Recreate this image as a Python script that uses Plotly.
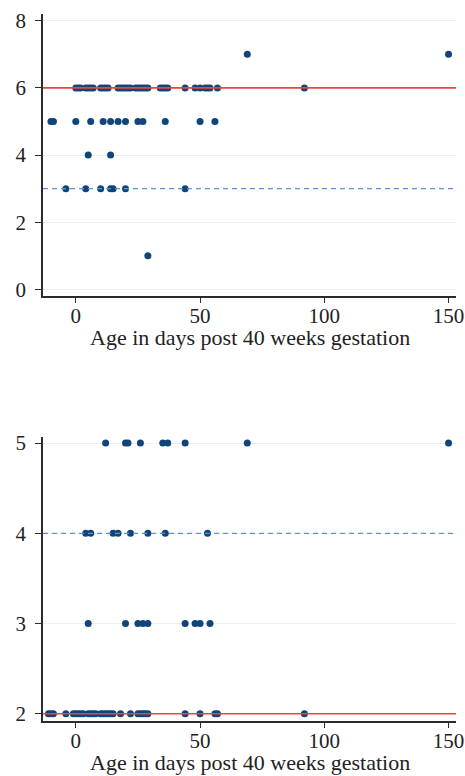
import plotly.graph_objects as go
from plotly.subplots import make_subplots

# ---- Top panel data (x = age in days, y = score) ----
top_x_y6 = [0, 1, 2, 4, 5, 6, 7, 10, 11, 12, 13, 17, 18, 19, 20, 21, 22, 24, 25, 26, 27, 28, 29,
            34, 35, 36, 37, 44, 48, 50, 52, 53, 54, 57, 92]
top_x_y5 = [-10, -9, 0, 6, 11, 14, 17, 20, 25, 27, 36, 50, 56]
top_x_y4 = [5, 14]
top_x_y3 = [-4, 4, 10, 14, 15, 20, 44]
top_x_y1 = [29]
top_x_y7 = [69, 150]
top_solid_ref = 6
top_dashed_ref = 3
top_yticks = [0, 2, 4, 6, 8]

# ---- Bottom panel data ----
bot_x_y5 = [12, 20, 21, 26, 35, 37, 44, 69, 150]
bot_x_y4 = [4, 6, 15, 17, 22, 29, 36, 53]
bot_x_y3 = [5, 20, 25, 27, 29, 44, 48, 50, 54]
bot_x_y2 = [-11, -10, -9, -4, -1, 0, 1, 2, 3, 5, 6, 7, 8, 10, 11, 12, 13, 14, 15, 18, 22,
            25, 26, 27, 28, 29, 44, 50, 56, 57, 92]
bot_solid_ref = 2
bot_dashed_ref = 4
bot_yticks = [2, 3, 4, 5]

xticks = [0, 50, 100, 150]
x_title = "Age in days post 40 weeks gestation"

MARK = "#10457a"
RED = "#e8463c"
BLUE = "#5b93d6"
AX = "#2b2b2b"
FONT = "Liberation Serif"

fig = make_subplots(rows=2, cols=1, vertical_spacing=0.2)

def add_points(xs_by_y, row):
    xs, ys = [], []
    for yv, xs_list in xs_by_y:
        xs += xs_list
        ys += [yv] * len(xs_list)
    fig.add_trace(go.Scatter(x=xs, y=ys, mode="markers",
                             marker=dict(color=MARK, size=7),
                             showlegend=False, hoverinfo="x+y"), row=row, col=1)

add_points([(7, top_x_y7), (6, top_x_y6), (5, top_x_y5), (4, top_x_y4),
            (3, top_x_y3), (1, top_x_y1)], 1)
add_points([(5, bot_x_y5), (4, bot_x_y4), (3, bot_x_y3), (2, bot_x_y2)], 2)

# reference lines
for (yref, yv, col, dash, w) in [("y", top_solid_ref, RED, "solid", 1.6),
                                  ("y", top_dashed_ref, BLUE, "5px,4px", 1.4),
                                  ("y2", bot_solid_ref, RED, "solid", 1.6),
                                  ("y2", bot_dashed_ref, BLUE, "5px,4px", 1.4)]:
    xr = "x domain" if yref == "y" else "x2 domain"
    fig.add_shape(type="line", xref=xr, yref=yref, x0=0, x1=1, y0=yv, y1=yv,
                  line=dict(color=col, width=w, dash=dash), layer="above")

# x-axis titles as annotations placed below each panel
for xr, yr in [("x domain", "y domain"), ("x2 domain", "y2 domain")]:
    fig.add_annotation(text=x_title, xref=xr, yref=yr, x=0.5, y=0, xanchor="center",
                       yanchor="middle", yshift=-41, showarrow=False, borderpad=0,
                       font=dict(family=FONT, size=22, color="#222"))

xaxis_common = dict(range=[-13.2, 153], tickvals=xticks, showgrid=False, zeroline=False,
                    showline=True, linecolor=AX, linewidth=1.6, ticks="outside",
                    ticklen=5, tickcolor=AX, tickwidth=1.3, automargin=False,
                    ticklabeloverflow="allow", ticklabelstandoff=-5,
                    tickfont=dict(family=FONT, size=21, color="#222"))
yaxis_common = dict(showgrid=True, gridcolor="#efefef", gridwidth=1, zeroline=False,
                    showline=True, linecolor=AX, linewidth=1.6, ticks="outside",
                    ticklen=6, tickcolor=AX, tickwidth=1.3, ticklabelstandoff=5,
                    automargin=False,
                    tickfont=dict(family=FONT, size=21, color="#222"))

fig.update_xaxes(**xaxis_common)
fig.update_yaxes(**yaxis_common)
fig.update_yaxes(range=[-0.2, 8.2], tickvals=top_yticks, domain=[0.601, 1.0], row=1, col=1)
fig.update_yaxes(range=[1.92, 5.07], tickvals=bot_yticks, domain=[0.0, 0.402], row=2, col=1)

fig.update_layout(width=465, height=776, margin=dict(l=43, r=9, t=14, b=55),
                  paper_bgcolor="white", plot_bgcolor="white",
                  font=dict(family=FONT, color="#222"))

fig.write_html("out.html", config={"displayModeBar": False},
               post_script="document.body.style.margin='0';document.body.style.overflow='hidden';")
